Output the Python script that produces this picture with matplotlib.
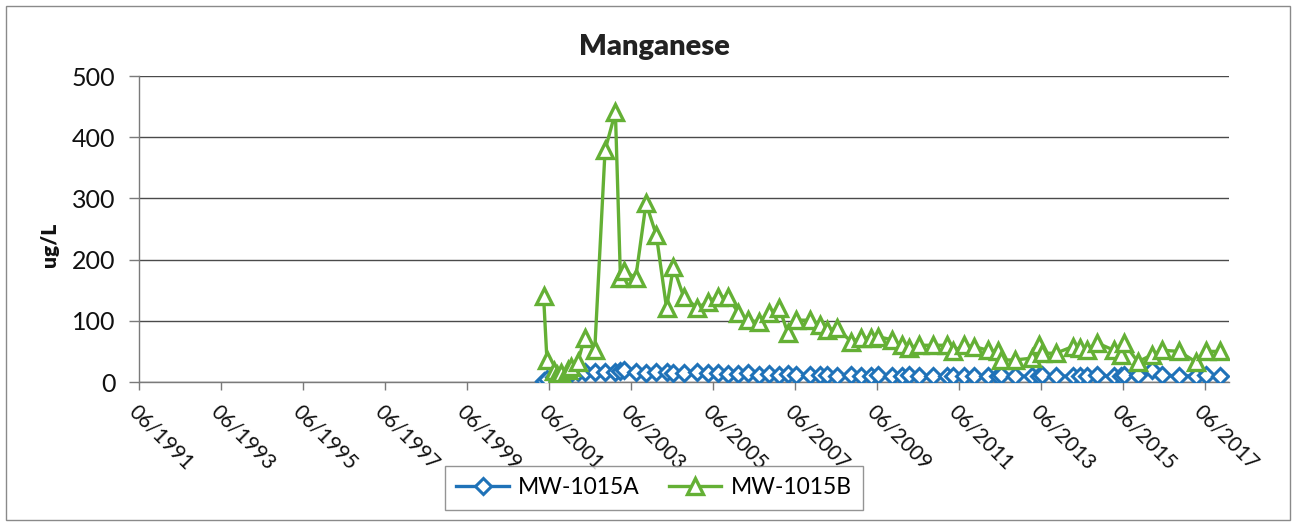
import matplotlib
matplotlib.use("Agg")
import matplotlib.pyplot as plt
from matplotlib.patches import Rectangle
from matplotlib.lines import Line2D
import pandas as pd

plt.rcParams['font.family'] = ['Lato', 'DejaVu Sans']

# Sampling dates (shared by both wells)
sample_dates = [
    "2001-04-15", "2001-05-15", "2001-07-15", "2001-08-15", "2001-09-15", "2001-11-15",
    "2001-12-15", "2002-02-15", "2002-04-15", "2002-07-15", "2002-10-15", "2003-01-15",
    "2003-03-01", "2003-04-01", "2003-07-15", "2003-10-15", "2004-01-15", "2004-04-15",
    "2004-06-15", "2004-09-15", "2005-01-15", "2005-04-15", "2005-07-15", "2005-10-15",
    "2006-01-15", "2006-04-15", "2006-07-15", "2006-10-15", "2007-01-15", "2007-04-01",
    "2007-06-15", "2007-10-15", "2008-01-15", "2008-03-15", "2008-06-15", "2008-10-15",
    "2009-01-15", "2009-04-15", "2009-06-15", "2009-10-15", "2010-01-15", "2010-03-15",
    "2010-06-15", "2010-10-15", "2011-02-15", "2011-04-15", "2011-07-15", "2011-10-15",
    "2012-02-15", "2012-05-15", "2012-06-15", "2012-10-15", "2013-03-15", "2013-05-15",
    "2013-06-15", "2013-10-15", "2014-03-15", "2014-05-15", "2014-07-15", "2014-10-15",
    "2015-03-15", "2015-05-15", "2015-06-15", "2015-10-15", "2016-02-15", "2016-05-15",
    "2016-10-15", "2017-03-15", "2017-06-15", "2017-10-15",
]

# Manganese concentrations, ug/L
mw_1015a = [
    2, 5, 8, 10, 8, 12, 14, 16, 17, 17, 16, 16,
    18, 20, 16, 15, 17, 16, 15, 14, 16, 15, 14, 13,
    13, 14, 12, 13, 12, 13, 12, 11, 12, 11, 10, 11,
    10, 10, 11, 10, 10, 11, 10, 10, 9, 10, 9, 10,
    9, 10, 11, 10, 9, 10, 11, 10, 9, 10, 10, 11,
    9, 10, 12, 11, 20, 11, 10, 10, 11, 10,
]
mw_1015b = [
    140, 36, 18, 12, 15, 20, 25, 33, 72, 52, 379, 441,
    170, 182, 170, 292, 240, 121, 188, 139, 121, 131, 139, 139,
    113, 101, 98, 113, 121, 80, 101, 101, 93, 85, 88, 66,
    72, 72, 74, 69, 60, 56, 60, 60, 60, 50, 60, 58,
    52, 50, 36, 36, 39, 60, 47, 47, 58, 55, 52, 64,
    52, 44, 64, 33, 44, 52, 50, 33, 50, 50,
]

tick_years = list(range(1991, 2018, 2))
tick_labels = [f"06/{y}" for y in tick_years]
y_ticks = [0, 100, 200, 300, 400, 500]

dates = pd.to_datetime(sample_dates)
tick_dates = pd.to_datetime([f"{y}-06-01" for y in tick_years])

W, H = 1296, 525
fig = plt.figure(figsize=(W / 100, H / 100), dpi=100)
fig.patch.set_facecolor("white")

# chart-area border
fig.add_artist(Rectangle((6 / W, 5 / H), 1284 / W, 514 / H, transform=fig.transFigure,
                         fill=False, edgecolor="#8a8a8a", linewidth=1.0))

ax = fig.add_axes([139 / W, 1 - 382 / H, (1229 - 139) / W, (382 - 76) / H])

blue = "#1f72b8"
green = "#64b035"

style_a = dict(color=blue, linewidth=2.4, marker="D", markersize=8,
               markerfacecolor="white", markeredgecolor=blue, markeredgewidth=2.2)
style_b = dict(color=green, linewidth=2.4, marker="^", markersize=11,
               markerfacecolor="white", markeredgecolor=green, markeredgewidth=2.4)

ax.plot(dates, mw_1015a, label="MW-1015A", zorder=3, **style_a)
ax.plot(dates, mw_1015b, label="MW-1015B", zorder=4, **style_b)

ax.set_xlim(pd.Timestamp("1991-06-01"), pd.Timestamp("2018-01-05"))
ax.set_ylim(0, 500)
ax.set_yticks(y_ticks)
ax.set_yticklabels([str(v) for v in y_ticks])
ax.set_xticks(tick_dates)
ax.set_xticklabels(tick_labels, rotation=-45, ha="left", va="top",
                   rotation_mode="anchor")

ax.grid(axis="y", color="#4a4a4a", linewidth=1.0)
ax.set_axisbelow(True)
for side in ("top", "right"):
    ax.spines[side].set_visible(False)
for side in ("left", "bottom"):
    ax.spines[side].set_color("#7a7a7a")
    ax.spines[side].set_linewidth(1.0)

ax.tick_params(axis="y", labelsize=18, length=7, width=1, color="#7a7a7a",
               pad=10, labelcolor="#111111")
ax.tick_params(axis="x", labelsize=15, length=6, width=1, color="#7a7a7a",
               pad=8, labelcolor="#111111")

fig.text(654 / W, 1 - 47 / H, "Manganese", ha="center", va="center",
         fontsize=21, fontweight="heavy", color="#222222")
fig.text(50 / W, 1 - 245 / H, "ug/L", ha="center", va="center", rotation=90,
         fontsize=15, fontweight="heavy", color="#111111")

handles = [Line2D([], [], **style_a), Line2D([], [], **style_b)]
leg = fig.legend(handles, ["MW-1015A", "MW-1015B"], loc="center",
                 bbox_to_anchor=(654 / W, 1 - 488 / H), ncol=2, fontsize=16.5,
                 frameon=True, fancybox=False, edgecolor="#7a7a7a",
                 handlelength=2.3, handletextpad=0.4, columnspacing=1.25,
                 borderpad=0.5)
leg.get_frame().set_linewidth(1.0)

fig.savefig("out.png", dpi=100)
